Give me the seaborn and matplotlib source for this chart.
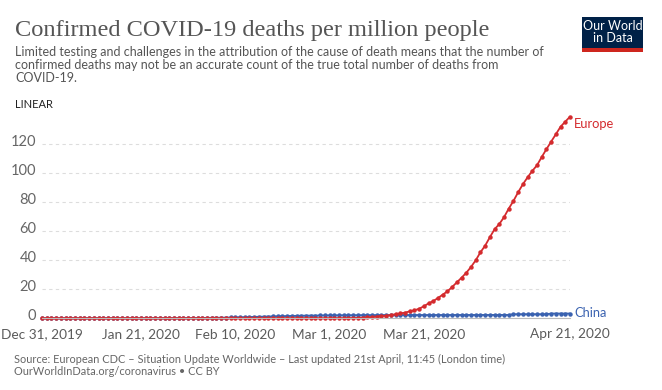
import pandas as pd
import matplotlib.pyplot as plt
import matplotlib.transforms as mtransforms
from matplotlib.patches import Rectangle
import seaborn as sns

# deaths per million, one value per day from Dec 31, 2019 to Apr 21, 2020
start_date = "2019-12-31"
europe = (
    [0.0] * 46
    + [0.001, 0.001, 0.001, 0.001, 0.001, 0.001, 0.003, 0.004, 0.005, 0.01,
       0.015, 0.02, 0.026, 0.03, 0.04, 0.05, 0.07, 0.09, 0.11, 0.15,
       0.2, 0.27, 0.5, 0.65, 0.9, 1.2, 1.6, 1.8, 2.3, 2.8,
       3.4, 3.9, 4.8, 5.5, 6.6, 8.3, 10.3, 11.9, 14.0, 16.3,
       18.6, 21.6, 24.8, 28.0, 31.4, 35.4, 40.0, 45.5, 50.1, 55.9,
       61.4, 65.0, 69.7, 75.6, 80.9, 86.9, 92.4, 97.2, 101.6, 105.5,
       111.2, 116.6, 121.8, 126.9, 132.1, 135.6, 139.0]
)
china = (
    [0.0] * 11
    + [0.001, 0.001, 0.001, 0.001, 0.001, 0.001, 0.002, 0.002, 0.003, 0.003,
       0.004, 0.006, 0.012, 0.017, 0.028, 0.039, 0.056, 0.074, 0.092, 0.118,
       0.148, 0.18, 0.21, 0.25, 0.30, 0.34, 0.39, 0.44, 0.50, 0.56,
       0.63, 0.71, 0.77, 0.87, 0.96, 1.06, 1.16, 1.23, 1.30, 1.39,
       1.47, 1.55, 1.63, 1.70, 1.80, 1.85, 1.89, 1.91, 1.94, 1.97,
       1.99, 2.02, 2.05, 2.07, 2.09, 2.11, 2.13, 2.15, 2.17, 2.18,
       2.19, 2.20, 2.21, 2.22, 2.22, 2.23, 2.24, 2.25, 2.26, 2.26,
       2.26, 2.27, 2.27, 2.28, 2.28, 2.28, 2.29, 2.29, 2.29, 2.30,
       2.30, 2.30, 2.31, 2.31, 2.31, 2.31, 2.31, 2.32, 2.32, 2.8,
       2.8, 2.8, 2.8, 2.8, 2.8, 2.8, 2.8, 3.3, 3.3, 3.3,
       3.3, 3.3]
)
tick_dates = ["2019-12-31", "2020-01-21", "2020-02-10", "2020-03-01", "2020-03-21", "2020-04-21"]
tick_labels = ["Dec 31, 2019", "Jan 21, 2020", "Feb 10, 2020", "Mar 1, 2020", "Mar 21, 2020", "Apr 21, 2020"]
y_ticks = [0, 20, 40, 60, 80, 100, 120]

title = "Confirmed COVID-19 deaths per million people"
subtitle = [
    "Limited testing and challenges in the attribution of the cause of death means that the number of",
    "confirmed deaths may not be an accurate count of the true total number of deaths from",
    "COVID-19.",
]
source = [
    "Source: European CDC \u2013 Situation Update Worldwide \u2013 Last updated 21st April, 11:45 (London time)",
    "OurWorldInData.org/coronavirus \u2022 CC BY",
]

colors = {"Europe": "#d42b2e", "China": "#3a62b0"}

dates = pd.date_range(start_date, periods=len(europe), freq="D")
df = pd.concat([
    pd.DataFrame({"date": dates, "value": europe, "region": "Europe"}),
    pd.DataFrame({"date": pd.date_range(start_date, periods=len(china), freq="D"), "value": china, "region": "China"}),
])

sns.set_style("white")
plt.rcParams["font.family"] = ["Lato", "DejaVu Sans"]

fig = plt.figure(figsize=(6.62, 3.9), dpi=100)
ax = fig.add_axes([42 / 662, (390 - 318.3) / 390, 528 / 662, 201.6 / 390])

sns.lineplot(data=df, x="date", y="value", hue="region", hue_order=["China", "Europe"],
             palette=colors, marker="o", markersize=3.2, markeredgewidth=0,
             linewidth=1.3, legend=False, ax=ax)
for line in ax.lines:
    line.set_clip_on(False)

ax.set_xlim(dates[0], dates[-1])
ax.set_ylim(0, 139)
ax.set_xlabel("")
ax.set_ylabel("")

ax.set_xticks(pd.to_datetime(tick_dates))
ax.set_xticklabels(tick_labels)
ax.set_yticks(y_ticks)
ax.set_yticklabels([str(v) for v in y_ticks])

ax.tick_params(axis="x", length=3, width=0.8, color="#bbbbbb", pad=4, labelsize=9.8, labelcolor="#5b5b5b")
ax.tick_params(axis="y", length=0, pad=4, labelsize=10.5, labelcolor="#666666")
offset = mtransforms.ScaledTranslation(0, 0.035, fig.dpi_scale_trans)
for lab in ax.get_yticklabels():
    lab.set_transform(lab.get_transform() + offset)

ax.yaxis.grid(True, linestyle=(0, (3, 3)), color="#dddddd", linewidth=0.8)
ax.xaxis.grid(False)
for side in ["left", "right", "top"]:
    ax.spines[side].set_visible(False)
ax.spines["bottom"].set_color("#bbbbbb")
ax.spines["bottom"].set_linewidth(0.8)
ax.set_axisbelow(True)

# line end labels
ax.annotate("Europe", xy=(dates[-1], europe[-1]), xytext=(4, -7), textcoords="offset pixels",
            color=colors["Europe"], fontsize=9.3, va="center", ha="left", annotation_clip=False)
ax.annotate("China", xy=(dates[-1], china[-1]), xytext=(4, 1), textcoords="offset pixels",
            color=colors["China"], fontsize=9.3, va="center", ha="left", annotation_clip=False)

# header
fig.text(15 / 662, (390 - 36) / 390, title, family=["Liberation Serif"], fontsize=17.6,
         color="#555555", va="baseline", ha="left")
for i, line in enumerate(subtitle):
    fig.text(15 / 662, (390 - 55.7 - 13.3 * i) / 390, line, fontsize=9.0,
             color="#555555", va="baseline", ha="left")
fig.text(15 / 662, (390 - 108.3) / 390, "LINEAR", fontsize=8, color="#222222",
         va="baseline", ha="left")

# logo
fig.patches.append(Rectangle((582 / 662, 342 / 390), 61 / 662, 31 / 390,
                             transform=fig.transFigure, facecolor="#002147", edgecolor="none"))
fig.patches.append(Rectangle((582 / 662, 338 / 390), 61 / 662, 4 / 390,
                             transform=fig.transFigure, facecolor="#ce261e", edgecolor="none"))
fig.text(612.5 / 662, 357.5 / 390, "Our World\nin Data", fontsize=9.0, color="white",
         ha="center", va="center", linespacing=1.0)

# footer
for i, line in enumerate(source):
    fig.text(14 / 662, (390 - 363.3 - 11.7 * i) / 390, line, fontsize=7.95,
             color="#666666", va="baseline", ha="left")

fig.savefig("out.png", dpi=100, facecolor="white")
